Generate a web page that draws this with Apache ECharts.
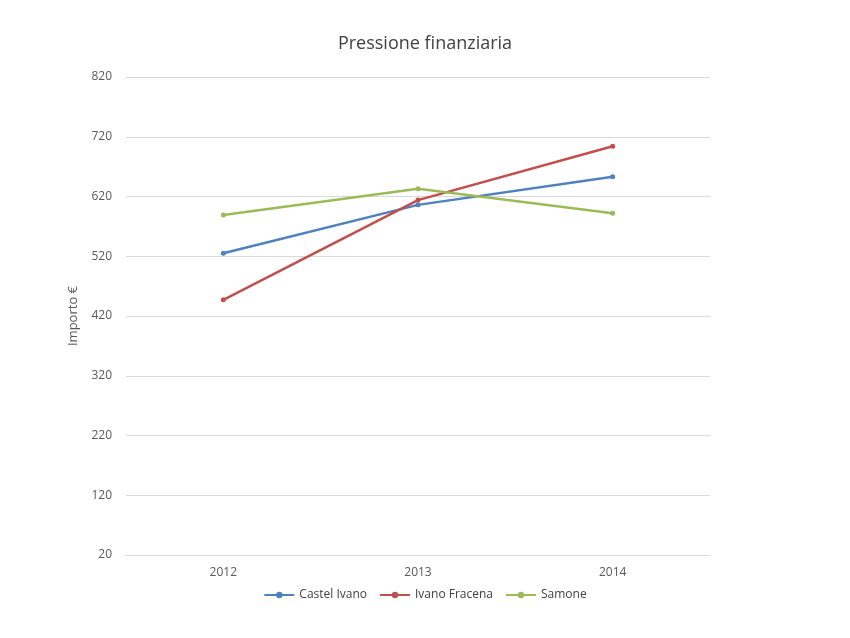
<!DOCTYPE html>
<html><head><meta charset="utf-8">
<script src="https://cdn.jsdelivr.net/npm/echarts@6/dist/echarts.min.js"></script>
<style>html,body{margin:0;background:#fff}#c{width:850px;height:638px}</style>
</head><body><div id="c"></div>
<script>
const categories = ['2012','2013','2014'];
const castelIvano = [525, 606, 653];
const ivanoFracena = [447, 614, 704];
const samone = [589, 633, 592];
const names = ['Castel Ivano','Ivano Fracena','Samone'];
const colors = ['#4f81bd','#c0504d','#9bbb59'];
const font = 'Open Sans, Calibri, sans-serif';
const chart = echarts.init(document.getElementById('c'));
const mk = (n, d, c) => ({name:n, type:'line', data:d, symbol:'circle', symbolSize:5,
  lineStyle:{width:2.5,color:c}, itemStyle:{color:c}});
chart.setOption({
  animation:false,
  title:{text:'Pressione finanziaria', left:'center', top:30, textStyle:{fontFamily:font,fontSize:18,fontWeight:'normal',color:'#404040'}},
  legend:{bottom:32, itemWidth:30, itemHeight:8, textStyle:{fontFamily:font,fontSize:12,color:'#404040'}, itemGap:12},
  grid:{left:126, right:140, top:77, bottom:83},
  xAxis:{type:'category', data:categories, boundaryGap:true,
    axisLine:{lineStyle:{color:'#d9d9d9'}}, axisTick:{show:false},
    axisLabel:{fontFamily:font,fontSize:12,color:'#595959',margin:12}},
  yAxis:{type:'value', min:20, max:820, interval:100, name:'Importo €', nameLocation:'middle', nameGap:46,
    nameTextStyle:{fontFamily:font,fontSize:13,color:'#595959'},
    axisLine:{show:false}, axisTick:{show:false},
    axisLabel:{fontFamily:font,fontSize:12,color:'#595959',margin:14},
    splitLine:{lineStyle:{color:'#d9d9d9'}}},
  series:[mk(names[0],castelIvano,colors[0]), mk(names[1],ivanoFracena,colors[1]), mk(names[2],samone,colors[2])]
});
</script></body></html>
